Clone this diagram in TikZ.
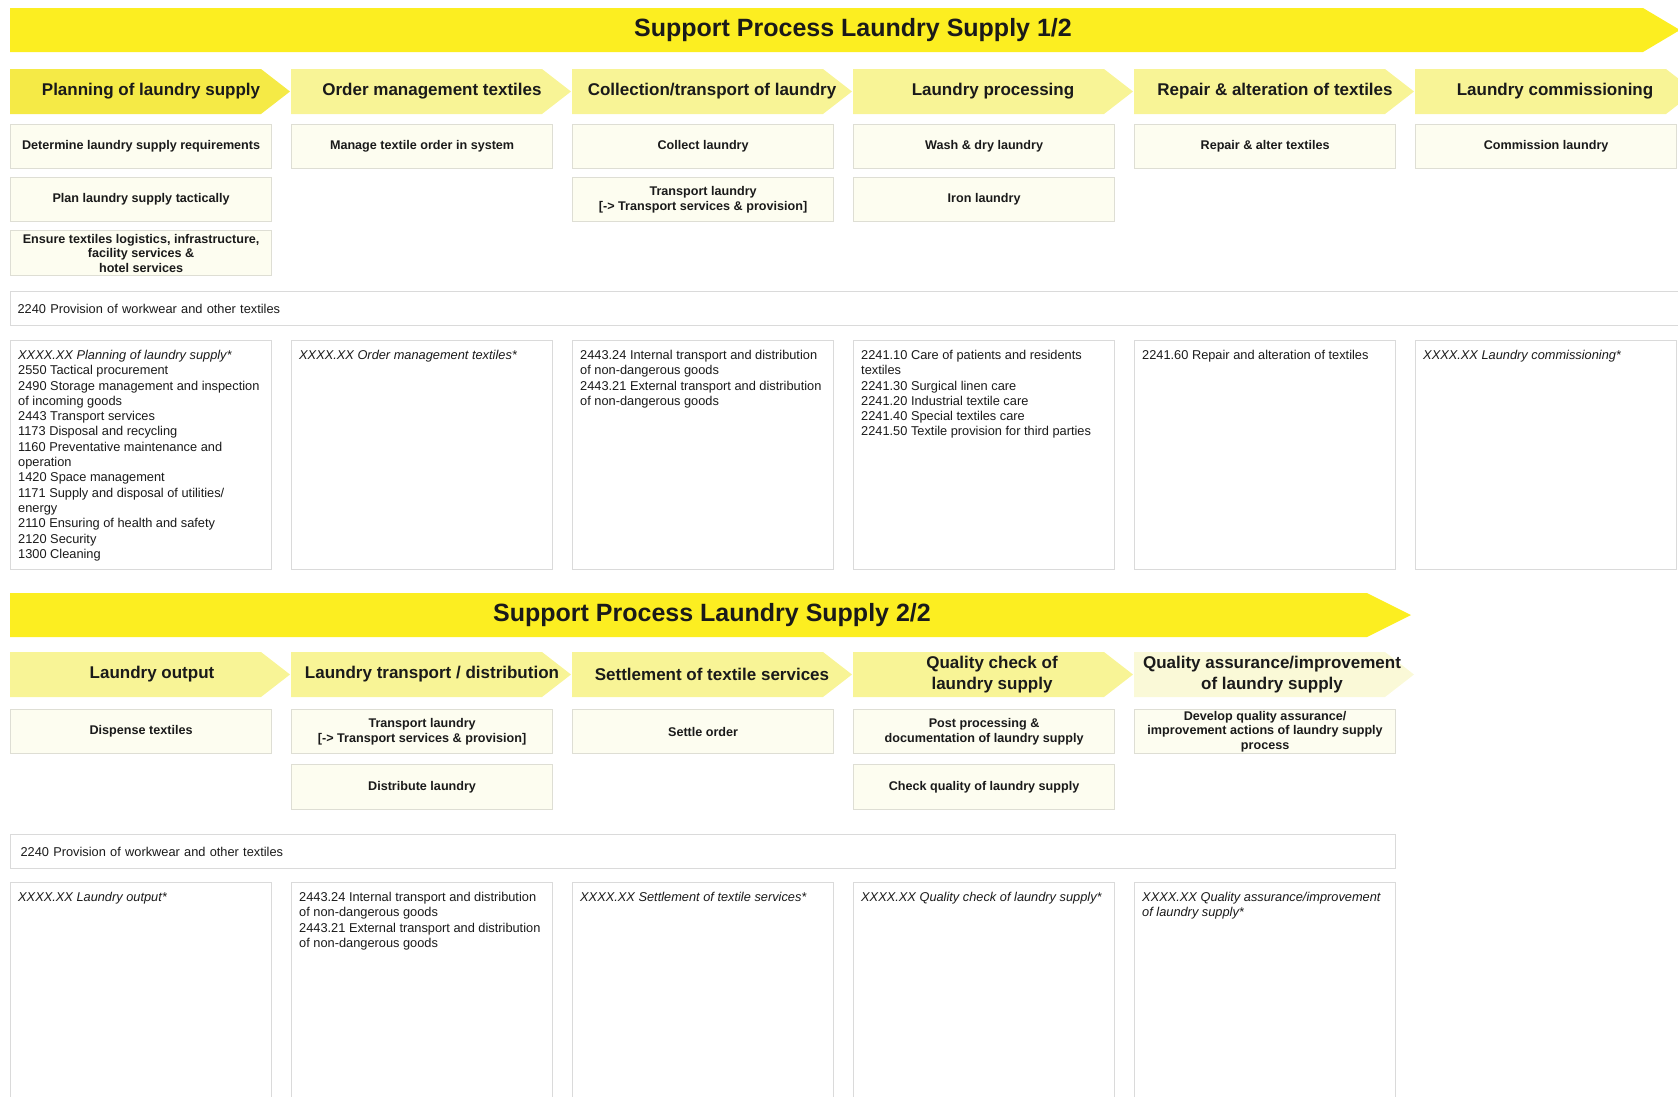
\documentclass[tikz,border=0pt]{standalone}
\usepackage{fontspec}
\setmainfont{Liberation Sans}

\definecolor{titleyellow}{RGB}{252,238,33}
\definecolor{headbright}{RGB}{245,234,70}
\definecolor{headpale}{RGB}{248,244,150}
\definecolor{headpaler}{RGB}{250,249,215}
\definecolor{boxfill}{RGB}{253,253,240}
\definecolor{boxline}{RGB}{222,222,212}
\definecolor{listline}{RGB}{218,218,218}
\definecolor{inkcol}{RGB}{26,26,26}

\tikzset{
  titletext/.style={font=\bfseries\fontsize{25}{30}\selectfont, text=inkcol},
  headtext/.style={font=\bfseries\fontsize{17}{21}\selectfont, text=inkcol, align=center},
  actbox/.style={draw=boxline, fill=boxfill, line width=1.2pt, anchor=north west,
    minimum width=261, minimum height=44, inner sep=0pt, align=center,
    font=\bfseries\fontsize{12.6}{14.6}\selectfont, text=inkcol},
  band/.style={draw=listline, fill=white, line width=1.2pt, anchor=north west,
    minimum height=34, align=left, font=\fontsize{12.8}{15.3}\selectfont, text=inkcol},
  listbox/.style={draw=listline, fill=white, line width=1.2pt, anchor=north west,
    minimum width=261, inner sep=0pt},
  listtext/.style={anchor=north west, align=left, inner xsep=8, inner ysep=10,
    font=\fontsize{12.8}{15.3}\selectfont, text=inkcol},
}

\begin{document}
\begin{tikzpicture}[x=1pt,y=-1pt]
        \useasboundingbox (0,0) rectangle (1678,1096);
        \clip (0,0) rectangle (1678,1096);

        % part 1/2
        \fill[titleyellow] (10,8) -- (1643,8) -- (1680,30) -- (1643,52) -- (10,52) -- cycle;
        \node[titletext] (title1) at (853,30) {Support Process Laundry Supply 1/2};

        \fill[headbright] (10,69) -- (261,69) -- (290,91.5) -- (261,114) -- (10,114) -- cycle;
        \fill[headpale] (291,69) -- (542,69) -- (571,91.5) -- (542,114) -- (291,114) -- cycle;
        \fill[headpale] (572,69) -- (823,69) -- (852,91.5) -- (823,114) -- (572,114) -- cycle;
        \fill[headpale] (853,69) -- (1104,69) -- (1133,91.5) -- (1104,114) -- (853,114) -- cycle;
        \fill[headpale] (1134,69) -- (1385,69) -- (1414,91.5) -- (1385,114) -- (1134,114) -- cycle;
        \fill[headpale] (1415,69) -- (1666,69) -- (1695,91.5) -- (1666,114) -- (1415,114) -- cycle;
        \node[headtext] (planning) at (151,91.5) {Planning of laundry supply};
        \node[headtext] (ordermgmt) at (432,91.5) {Order management textiles};
        \node[headtext] (collection) at (712,91.5) {Collection/transport of laundry};
        \node[headtext] (processing) at (993,91.5) {Laundry processing};
        \node[headtext] (repair) at (1275,91.5) {Repair \& alteration of textiles};
        \node[headtext] (commissioning) at (1555,91.5) {Laundry commissioning};

        \node[actbox] (determine) at (10,124) {Determine laundry supply requirements};
        \node[actbox] (plantact) at (10,177) {Plan laundry supply tactically};
        \node[actbox, minimum height=45] (ensure) at (10,230) {Ensure textiles logistics, infrastructure,\\facility services \&\\hotel services};
        \node[actbox] (manage) at (291,124) {Manage textile order in system};
        \node[actbox] (collect) at (572,124) {Collect laundry};
        \node[actbox] (transport1) at (572,177) {Transport laundry\\{[}-> Transport services \& provision{]}};
        \node[actbox] (wash) at (853,124) {Wash \& dry laundry};
        \node[actbox] (iron) at (853,177) {Iron laundry};
        \node[actbox] (alter) at (1134,124) {Repair \& alter textiles};
        \node[actbox] (commission) at (1415,124) {Commission laundry};

        \node[band, text width=1680, inner xsep=7] (provision1) at (10,291) {2240 Provision of workwear and other textiles};

        \node[listbox, minimum height=229] (list11) at (10,340) {};
        \node[listbox, minimum height=229] (list12) at (291,340) {};
        \node[listbox, minimum height=229] (list13) at (572,340) {};
        \node[listbox, minimum height=229] (list14) at (853,340) {};
        \node[listbox, minimum height=229] (list15) at (1134,340) {};
        \node[listbox, minimum height=229] (list16) at (1415,340) {};
        \node[listtext] (codes11) at (list11.north west) {\textit{XXXX.XX Planning of laundry supply*}\\2550 Tactical procurement\\2490 Storage management and inspection\\of incoming goods\\2443 Transport services\\1173 Disposal and recycling\\1160 Preventative maintenance and\\operation\\1420 Space management\\1171 Supply and disposal of utilities/\\energy\\2110 Ensuring of health and safety\\2120 Security\\1300 Cleaning};
        \node[listtext] (codes12) at (list12.north west) {\textit{XXXX.XX Order management textiles*}};
        \node[listtext] (codes13) at (list13.north west) {2443.24 Internal transport and distribution\\of non-dangerous goods\\2443.21 External transport and distribution\\of non-dangerous goods};
        \node[listtext] (codes14) at (list14.north west) {2241.10 Care of patients and residents\\textiles\\2241.30 Surgical linen care\\2241.20 Industrial textile care\\2241.40 Special textiles care\\2241.50 Textile provision for third parties};
        \node[listtext] (codes15) at (list15.north west) {2241.60 Repair and alteration of textiles};
        \node[listtext] (codes16) at (list16.north west) {\textit{XXXX.XX Laundry commissioning*}};

        % part 2/2
        \fill[titleyellow] (10,593) -- (1367,593) -- (1411,615) -- (1367,637) -- (10,637) -- cycle;
        \node[titletext] (title2) at (712,615) {Support Process Laundry Supply 2/2};

        \fill[headpale] (10,652) -- (261,652) -- (290,674.5) -- (261,697) -- (10,697) -- cycle;
        \fill[headpale] (291,652) -- (542,652) -- (571,674.5) -- (542,697) -- (291,697) -- cycle;
        \fill[headpale] (572,652) -- (823,652) -- (852,674.5) -- (823,697) -- (572,697) -- cycle;
        \fill[headpale] (853,652) -- (1104,652) -- (1133,674.5) -- (1104,697) -- (853,697) -- cycle;
        \fill[headpaler] (1134,652) -- (1385,652) -- (1414,674.5) -- (1385,697) -- (1134,697) -- cycle;
        \node[headtext] (output) at (152,674.5) {Laundry output};
        \node[headtext] (distribution) at (432,674.5) {Laundry transport / distribution};
        \node[headtext] (settlement) at (712,674.5) {Settlement of textile services};
        \node[headtext] (qcheck) at (992,674.5) {Quality check of\\laundry supply};
        \node[headtext] (qassure) at (1272,674.5) {Quality assurance/improvement\\of laundry supply};

        \node[actbox] (dispense) at (10,709) {Dispense textiles};
        \node[actbox] (transport2) at (291,709) {Transport laundry\\{[}-> Transport services \& provision{]}};
        \node[actbox, minimum height=45] (distribute) at (291,764) {Distribute laundry};
        \node[actbox] (settle) at (572,709) {Settle order};
        \node[actbox] (postproc) at (853,709) {Post processing \&\\documentation of laundry supply};
        \node[actbox, minimum height=45] (checkq) at (853,764) {Check quality of laundry supply};
        \node[actbox] (develop) at (1134,709) {Develop quality assurance/\\improvement actions of laundry supply\\process};

        \node[band, text width=1365, inner xsep=10] (provision2) at (10,834) {2240 Provision of workwear and other textiles};

        \node[listbox, minimum height=240] (list21) at (10,882) {};
        \node[listbox, minimum height=240] (list22) at (291,882) {};
        \node[listbox, minimum height=240] (list23) at (572,882) {};
        \node[listbox, minimum height=240] (list24) at (853,882) {};
        \node[listbox, minimum height=240] (list25) at (1134,882) {};
        \node[listtext] (codes21) at (list21.north west) {\textit{XXXX.XX Laundry output*}};
        \node[listtext] (codes22) at (list22.north west) {2443.24 Internal transport and distribution\\of non-dangerous goods\\2443.21 External transport and distribution\\of non-dangerous goods};
        \node[listtext] (codes23) at (list23.north west) {\textit{XXXX.XX Settlement of textile services*}};
        \node[listtext] (codes24) at (list24.north west) {\textit{XXXX.XX Quality check of laundry supply*}};
        \node[listtext] (codes25) at (list25.north west) {\textit{XXXX.XX Quality assurance/improvement}\\\textit{of laundry supply*}};
      \end{tikzpicture}
\end{document}
